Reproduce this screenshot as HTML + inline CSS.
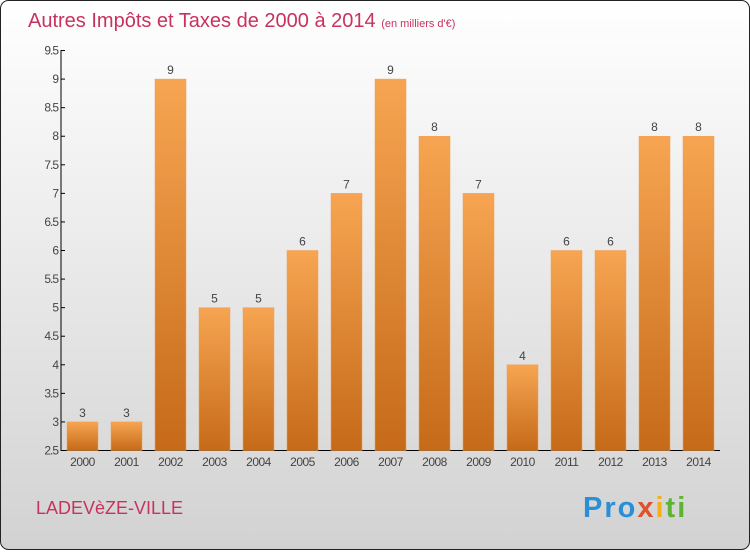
<!DOCTYPE html>
<html><head><meta charset="utf-8"><style>
body{margin:0;width:750px;height:550px;overflow:hidden;font-family:"Liberation Sans",sans-serif}
</style></head><body>
<svg width="750" height="550" xmlns="http://www.w3.org/2000/svg">
<defs>
<linearGradient id="bg" x1="0" y1="0" x2="0" y2="1"><stop offset="0" stop-color="#ffffff"/><stop offset="1" stop-color="#d2d2d2"/></linearGradient>
<linearGradient id="bar" x1="0" y1="0" x2="0" y2="1"><stop offset="0" stop-color="#f7a552"/><stop offset="1" stop-color="#c56a19"/></linearGradient>
</defs>
<rect x="0.5" y="0.5" width="749" height="549" rx="8" fill="url(#bg)" stroke="#222"/>
<text x="28" y="27" font-size="20" fill="#c8325e">Autres Impôts et Taxes de 2000 à 2014 <tspan font-size="11">(en milliers d'€)</tspan></text>
<g id="axes"></g><g id="bars"></g>
<text x="36" y="514" font-size="18" fill="#c8325e">LADEVèZE-VILLE</text>
<text x="583" y="517" font-size="29" font-weight="bold" letter-spacing="2"><tspan fill="#2a8fd6">Pro</tspan><tspan fill="#e2502a">x</tspan><tspan fill="#f2b016">i</tspan><tspan fill="#5cb531">ti</tspan></text>
</svg>
<script>
const years=["2000","2001","2002","2003","2004","2005","2006","2007","2008","2009","2010","2011","2012","2013","2014"];
const values=[3,3,9,5,5,6,7,9,8,7,4,6,6,8,8];
const ticks=[2.5,3,3.5,4,4.5,5,5.5,6,6.5,7,7.5,8,8.5,9,9.5];
const NS="http://www.w3.org/2000/svg";
const y=v=>450.5-(v-2.5)*57.14;
const x=i=>67+i*44;
function mk(t,a,p){const e=document.createElementNS(NS,t);for(const k in a)e.setAttribute(k,a[k]);p.appendChild(e);return e;}
const ax=document.getElementById('axes'),bg=document.getElementById('bars');
const yl=mk('line',{x1:61,y1:50,x2:61,y2:451,stroke:'#000'},ax);


const xl=mk('line',{x1:61,y1:450.5,x2:720,y2:450.5,stroke:'#000'},ax);


ticks.forEach(t=>{
 mk('line',{x1:61,y1:y(t),x2:65,y2:y(t),stroke:'#000'},ax);
 const tx=mk('text',{x:58,y:y(t)+4,'text-anchor':'end','font-size':12,fill:'#444','letter-spacing':'-1'},ax);
 tx.textContent=String(t);
 
 
});
years.forEach((yr,i)=>{
 const r=mk('rect',{x:x(i),y:y(values[i]),width:31,height:450.5-y(values[i]),fill:'url(#bar)',stroke:'#f0a050','stroke-width':0.5},bg);
 
 
 const v=mk('text',{x:x(i)+15.5,y:y(values[i])-5,'text-anchor':'middle','font-size':12,fill:'#444'},bg);
 v.textContent=values[i];
 
 
 const l=mk('text',{x:x(i)+15.5,y:466,'text-anchor':'middle','font-size':12,fill:'#444','letter-spacing':'-0.5'},bg);
 l.textContent=yr;
 
 
});
</script>
</body></html>
